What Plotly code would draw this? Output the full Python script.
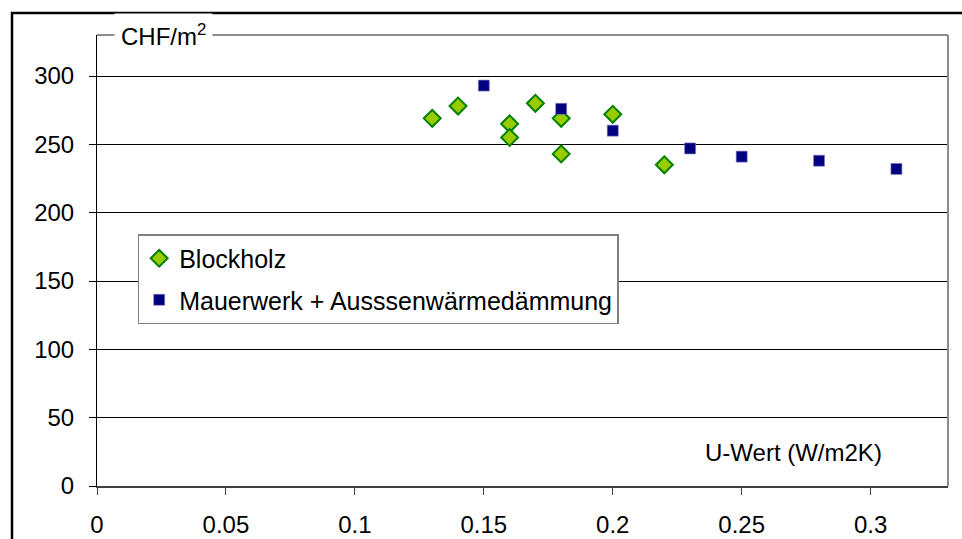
import plotly.graph_objects as go

# Data
block_x = [0.13, 0.14, 0.16, 0.16, 0.17, 0.18, 0.18, 0.20, 0.22]
block_y = [269, 278, 265, 255, 280, 269, 243, 272, 235]

mauer_x = [0.15, 0.18, 0.20, 0.23, 0.25, 0.28, 0.31]
mauer_y = [293, 276, 260, 247, 241, 238, 232]

x_ticks = [0, 0.05, 0.1, 0.15, 0.2, 0.25, 0.3]
y_ticks = [0, 50, 100, 150, 200, 250, 300]

FONT = "Liberation Sans, Arial, sans-serif"
FS = 24

fig = go.Figure()
fig.add_trace(go.Scatter(
    x=block_x, y=block_y, mode="markers", name="Blockholz",
    legendgroup="a",
    marker=dict(symbol="diamond", size=13, color="#99CC00",
                line=dict(color="#008000", width=2)),
))
fig.add_trace(go.Scatter(
    x=mauer_x, y=mauer_y, mode="markers", name="Mauerwerk + Ausssenwärmedämmung",
    legendgroup="b",
    marker=dict(symbol="square", size=11, color="#000080",
                line=dict(color="#8080C0", width=0.6)),
))

W, H = 962, 539
L, R, T, B = 97, 14, 35, 53

fig.update_layout(
    width=W, height=H,
    margin=dict(l=L, r=R, t=T, b=B, autoexpand=False),
    paper_bgcolor="white", plot_bgcolor="white",
    font=dict(family=FONT, size=FS, color="black"),
    showlegend=True,
    legend=dict(
        x=0.0478, y=(H - B - 234) / (H - T - B), xanchor="left", yanchor="top",
        bgcolor="white", bordercolor="#808080", borderwidth=1.5,
        font=dict(family=FONT, size=25, color="black"),
        tracegroupgap=6, traceorder="grouped",
    ),
    xaxis=dict(
        range=[0, 0.33], tickvals=x_ticks, ticktext=[str(v) for v in x_ticks],
        showgrid=False, zeroline=False, automargin=False,
        showline=True, linecolor="#404040", linewidth=2,
        ticks="outside", ticklen=7, tickcolor="#404040", tickwidth=1,
        ticklabelstandoff=9,
        tickfont=dict(family=FONT, size=FS, color="black"),
    ),
    yaxis=dict(
        range=[0, 330], tickvals=y_ticks,
        showgrid=True, gridcolor="black", gridwidth=1,
        zeroline=False, automargin=False,
        showline=True, linecolor="black", linewidth=1,
        ticks="outside", ticklen=7, tickcolor="black", tickwidth=1,
        ticklabelstandoff=10,
        tickfont=dict(family=FONT, size=FS, color="black"),
    ),
    shapes=[
        # plot-area frame top and right (gray)
        dict(type="line", xref="paper", yref="paper", x0=0, x1=1, y0=1, y1=1,
             line=dict(color="#8c8c8c", width=2)),
        dict(type="line", xref="paper", yref="paper", x0=1, x1=1, y0=0, y1=1,
             line=dict(color="#8c8c8c", width=2)),
        # outer chart border (black)
        dict(type="rect", xref="paper", yref="paper",
             x0=(12 - L) / (W - L - R), x1=(975 - L) / (W - L - R),
             y0=(H - B - 560) / (H - T - B), y1=(H - B - 13) / (H - T - B),
             line=dict(color="black", width=2.5)),
    ],
    annotations=[
        dict(text="CHF/m<sup>2</sup>", xref="paper", yref="paper",
             x=(120 - L) / (W - L - R), y=1.0, xanchor="left", yanchor="middle",
             showarrow=False, bgcolor="white", borderpad=6, xshift=-6,
             font=dict(family=FONT, size=FS, color="black")),
        dict(text="U-Wert (W/m2K)", xref="paper", yref="paper",
             x=(793 - L) / (W - L - R), y=(H - B - 452) / (H - T - B),
             xanchor="center", yanchor="middle", showarrow=False,
             font=dict(family=FONT, size=FS, color="black")),
    ],
)

fig.write_html("out.html")
